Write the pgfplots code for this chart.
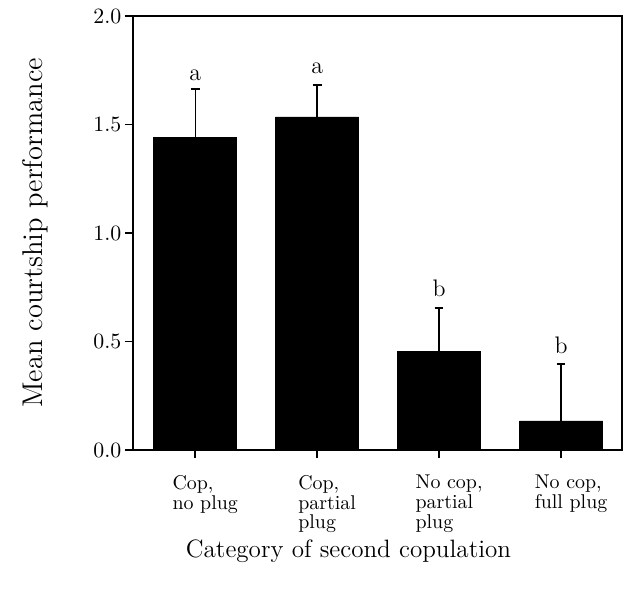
\documentclass[border=0pt]{standalone}
\usepackage{pgfplots}
\pgfplotsset{compat=1.18}
\begin{document}
\begin{tikzpicture}
\begin{axis}[
    scale only axis,
    width=244.5bp, height=217bp,
    xmin=-0.51, xmax=3.5,
    ymin=0, ymax=2,
    ybar, bar width=41.5bp,
    axis line style={line width=0.75bp},
    xtick={0,1,2,3},
    xticklabels={{Cop,\\no plug},{Cop,\\partial\\plug},{No cop,\\partial\\plug},{No cop,\\full plug}},
    xticklabel style={align=left, font=\fontsize{10}{10}\selectfont, xshift=5bp, yshift=-5bp},
    ytick={0,0.5,1,1.5,2},
    /pgf/number format/fixed,
    /pgf/number format/fixed zerofill,
    /pgf/number format/precision=1,
    yticklabel style={font=\fontsize{11}{12}\selectfont, xshift=1.7bp},
    tick pos=left, tick align=outside,
    major tick length=4bp,
    tick style={black, line width=0.75bp},
    ylabel={Mean courtship performance},
    xlabel={Category of second copulation},
    ylabel style={font=\fontsize{14.3}{16}\selectfont,
        at={([xshift=-45bp]rel axis cs:0,0.5)}, anchor=base},
    xlabel style={font=\fontsize{12.6}{15}\selectfont,
        at={([xshift=-14.5bp,yshift=-53.5bp]rel axis cs:0.5,0)}, anchor=base},
]
\addplot[fill=black, draw=black,
    error bars/.cd, y dir=plus, y explicit,
    error mark=|,
    error bar style={line width=0.65bp, black},
    error mark options={black, mark size=2.2bp, line width=0.65bp}]
coordinates {
    (0,1.442) +- (0,0.221)
    (1,1.535) +- (0,0.147)
    (2,0.454) +- (0,0.200)
    (3,0.134) +- (0,0.262)
};
\node[font=\fontsize{12}{13}\selectfont] at (axis cs:0,1.728) {a};
\node[font=\fontsize{12}{13}\selectfont] at (axis cs:1,1.760) {a};
\node[font=\fontsize{12}{13}\selectfont] at (axis cs:2,0.745) {b};
\node[font=\fontsize{12}{13}\selectfont] at (axis cs:3,0.484) {b};
\end{axis}
\pgfresetboundingbox
\path ([shift={(-66.5bp,-69.5bp)}]current axis.south west)
    rectangle ([shift={(2.5bp,8bp)}]current axis.north east);
\end{tikzpicture}
\end{document}
